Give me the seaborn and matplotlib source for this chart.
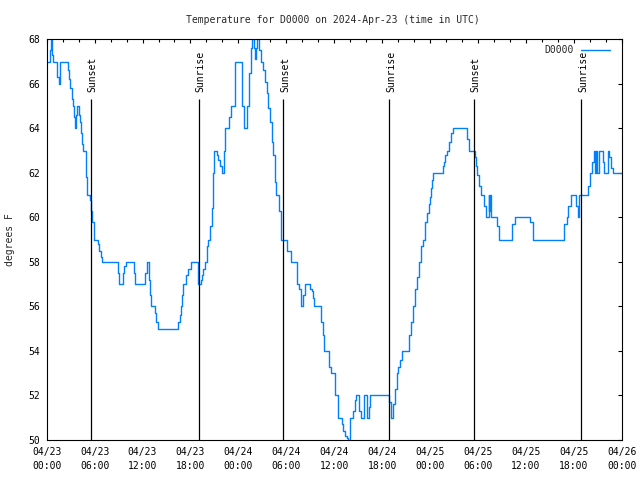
import matplotlib
matplotlib.use("Agg")
import matplotlib.pyplot as plt
from matplotlib.ticker import MultipleLocator
import pandas as pd
import seaborn as sns

# hours since 04/23 00:00 UTC (value holds until next time)
hours = [0.00, 0.38, 0.50, 0.66, 0.79, 1.35, 1.48, 1.70, 2.70, 2.83,
         2.96, 3.17, 3.33, 3.46, 3.58, 3.71, 3.83, 4.04, 4.17, 4.30,
         4.46, 4.58, 4.86, 4.92, 5.05, 5.42, 5.55, 5.71, 5.89, 6.39,
         6.55, 6.76, 6.92, 8.89, 9.02, 9.52, 9.68, 9.89, 10.97, 11.09,
         12.35, 12.56, 12.77, 12.94, 13.06, 13.56, 13.72, 13.90, 16.48, 16.65,
         16.82, 16.98, 17.10, 17.44, 17.69, 18.03, 18.98, 19.28, 19.45, 19.61,
         19.82, 20.04, 20.24, 20.45, 20.66, 20.79, 20.86, 20.99, 21.29, 21.49,
         21.70, 21.99, 22.24, 22.36, 22.87, 23.08, 23.54, 24.49, 24.71, 25.12,
         25.33, 25.55, 25.75, 25.96, 26.12, 26.25, 26.37, 26.62, 26.80, 27.09,
         27.34, 27.55, 27.75, 27.96, 28.17, 28.38, 28.59, 28.71, 29.05, 29.30,
         30.13, 30.55, 31.31, 31.59, 31.84, 32.06, 32.35, 32.97, 33.18, 33.35,
         33.51, 34.31, 34.56, 34.76, 35.31, 35.56, 36.14, 36.44, 36.94, 37.14,
         37.35, 37.57, 37.69, 37.98, 38.32, 38.61, 38.73, 39.14, 39.36, 39.70,
         40.15, 40.36, 40.48, 42.90, 43.08, 43.40, 43.58, 43.83, 44.03, 44.24,
         44.45, 45.41, 45.66, 45.83, 46.16, 46.33, 46.66, 46.87, 47.16, 47.41,
         47.66, 47.83, 48.00, 48.12, 48.29, 48.41, 49.59, 49.79, 49.91, 50.16,
         50.41, 50.59, 50.91, 52.67, 52.84, 53.63, 53.79, 53.92, 54.13, 54.38,
         54.80, 55.01, 55.35, 55.42, 55.51, 55.64, 56.42, 56.68, 58.30, 58.64,
         60.52, 60.86, 64.81, 65.11, 65.31, 65.65, 66.28, 66.53, 66.69, 67.82,
         68.03, 68.32, 68.57, 68.70, 68.82, 68.95, 69.16, 69.70, 69.82, 70.25,
         70.41, 70.63, 70.95, 72.00]

temps = [67.0, 67.5, 68.0, 67.3, 67.0, 66.3, 66.0, 67.0, 66.6, 66.2,
         65.8, 65.3, 65.0, 64.5, 64.0, 64.6, 65.0, 64.6, 64.3, 63.8,
         63.3, 63.0, 62.5, 61.8, 61.0, 60.8, 60.3, 59.8, 59.0, 58.8,
         58.5, 58.2, 58.0, 57.5, 57.0, 57.5, 57.8, 58.0, 57.5, 57.0,
         57.5, 58.0, 57.2, 56.5, 56.0, 55.7, 55.3, 55.0, 55.3, 55.6,
         56.0, 56.5, 57.0, 57.4, 57.7, 58.0, 57.0, 57.2, 57.4, 57.7,
         58.0, 58.7, 59.0, 59.6, 60.4, 61.2, 62.0, 63.0, 62.8, 62.6,
         62.3, 62.0, 63.0, 64.0, 64.5, 65.0, 67.0, 65.0, 64.0, 65.0,
         66.5, 67.6, 68.0, 67.6, 67.1, 67.6, 68.0, 67.5, 67.0, 66.6,
         66.1, 65.6, 64.9, 64.3, 63.4, 62.8, 61.6, 61.0, 60.3, 59.0,
         58.5, 58.0, 57.0, 56.8, 56.0, 56.5, 57.0, 56.8, 56.7, 56.4,
         56.0, 55.3, 54.7, 54.0, 53.3, 53.0, 52.0, 51.0, 50.7, 50.4,
         50.2, 50.1, 50.0, 51.0, 51.3, 51.8, 52.0, 51.3, 51.0, 52.0,
         51.0, 51.5, 52.0, 51.7, 51.0, 51.6, 52.3, 53.0, 53.3, 53.6,
         54.0, 54.7, 55.3, 56.0, 56.8, 57.3, 58.0, 58.7, 59.0, 59.8,
         60.2, 60.6, 60.9, 61.3, 61.7, 62.0, 62.3, 62.5, 62.8, 63.0,
         63.4, 63.8, 64.0, 63.5, 63.0, 62.7, 62.3, 61.9, 61.4, 61.0,
         60.5, 60.0, 61.0, 60.3, 61.0, 60.0, 59.6, 59.0, 59.7, 60.0,
         59.8, 59.0, 59.7, 60.0, 60.5, 61.0, 60.5, 60.0, 61.0, 61.4,
         62.0, 62.5, 63.0, 62.0, 63.0, 62.0, 63.0, 62.5, 62.0, 63.0,
         62.7, 62.2, 62.0, 62.0]

sun_hours = [5.55, 19.01, 29.63, 42.90, 53.54, 66.94]
sun_labels = ["Sunset", "Sunrise", "Sunset", "Sunrise", "Sunset", "Sunrise"]

xtick_hours = [0, 6, 12, 18, 24, 30, 36, 42, 48, 54, 60, 66, 72]
xtick_labels = ["04/23\n00:00", "04/23\n06:00", "04/23\n12:00", "04/23\n18:00",
                "04/24\n00:00", "04/24\n06:00", "04/24\n12:00", "04/24\n18:00",
                "04/25\n00:00", "04/25\n06:00", "04/25\n12:00", "04/25\n18:00",
                "04/26\n00:00"]
ytick_values = [50, 52, 54, 56, 58, 60, 62, 64, 66, 68]

title = "Temperature for D0000 on 2024-Apr-23 (time in UTC)"
series_name = "D0000"

sns.set_style("white")
plt.rcParams["font.family"] = ["DejaVu Sans Mono", "DejaVu Sans"]
plt.rcParams["font.size"] = 7

fig = plt.figure(figsize=(6.4, 4.8), dpi=100)
ax = fig.add_axes([46.7 / 640, 40 / 480, 575 / 640, 400.7 / 480])

df = pd.DataFrame({"hours": hours, "temp": temps})
sns.lineplot(data=df, x="hours", y="temp", ax=ax, drawstyle="steps-post",
             estimator=None, sort=False, color="#0080ff", linewidth=1.0,
             label=series_name)

for h, lab in zip(sun_hours, sun_labels):
    ax.vlines(h, 50, 65.3, color="black", linewidth=0.9)
    ax.text(h + 0.2, 65.62, lab, rotation=90, ha="center", va="bottom",
            fontsize=7, color="black")

ax.set_xlim(0, 72)
ax.set_ylim(50, 68)
ax.set_xticks(xtick_hours)
ax.set_xticklabels(xtick_labels)
for lbl in ax.get_xticklabels():
    lbl.set_linespacing(1.5)
ax.xaxis.set_minor_locator(MultipleLocator(2))
ax.set_yticks(ytick_values)
ax.set_yticklabels([str(v) for v in ytick_values])
ax.tick_params(which="both", direction="in", top=True, right=True,
               colors="black", labelcolor="black")
ax.tick_params(which="major", length=3.2, width=0.8, pad=5)
ax.tick_params(which="minor", length=2.0, width=0.8)
for s in ax.spines.values():
    s.set_visible(True)
    s.set_color("black")
    s.set_linewidth(0.8)

ax.set_xlabel("")
ax.set_ylabel("degrees F", fontsize=7)
ax.yaxis.set_label_coords(-0.055, 0.5)

fig.text(0.52, 1 - 20 / 480, title, ha="center", va="center", fontsize=7)

ax.legend(loc="upper right", bbox_to_anchor=(1 - 4 / 575, 1 + 2 / 400),
          markerfirst=False, frameon=False,
          handlelength=3.0, handletextpad=0.7, borderaxespad=0.4,
          fontsize=7)

fig.savefig("out.png", dpi=100)
